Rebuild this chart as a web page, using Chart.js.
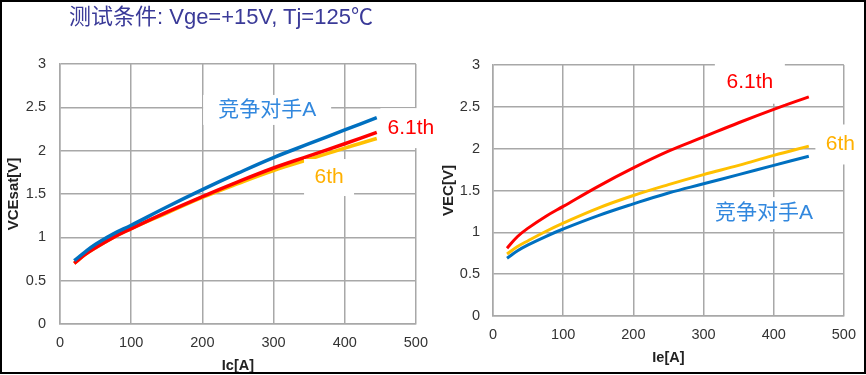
<!DOCTYPE html>
<html lang="zh">
<head>
<meta charset="UTF-8">
<title>VCEsat / VEC</title>
<script src="https://cdn.jsdelivr.net/npm/chart.js"></script>
<style>
  body {
    margin: 0;
    width: 866px;
    height: 375px;
    overflow: hidden;
    background: #ffffff;
    position: relative;
    font-family: "Liberation Sans", Arial, "Noto Sans CJK SC", sans-serif;
  }
  #marco {
    position: absolute; left: 0; top: 0;
    width: 866px; height: 374px;
    border: 2px solid #000000;
    box-sizing: border-box;
    pointer-events: none;
    z-index: 3;
  }
  #titulo {
    position: absolute; left: 69px; top: 3px;
    font-size: 22px; line-height: 28px;
    color: #3a3a98;
    white-space: nowrap;
    z-index: 2;
  }
  #cajaIzq { position: absolute; left: 0; top: 0; width: 438px; height: 375px; }
  #cajaDer { position: absolute; left: 438px; top: 0; width: 428px; height: 375px; }
  canvas { display: block; }
</style>
</head>
<body>
<div id="cajaIzq"><canvas id="graficaIzq" width="438" height="375"></canvas></div>
<div id="cajaDer"><canvas id="graficaDer" width="428" height="375"></canvas></div>
<div id="titulo">测试条件: Vge=+15V, Tj=125℃</div>
<div id="marco"></div>

<script>
// corriente de colector (A) donde se leyeron las curvas de la izquierda
const corrienteIc = [20, 35, 50, 75, 100, 150, 200, 250, 300, 350, 400, 445];
const vcesatCompetidor = [0.73, 0.83, 0.92, 1.04, 1.14, 1.35, 1.55, 1.74, 1.92, 2.08, 2.24, 2.38];
const vcesat61 = [0.70, 0.80, 0.88, 1.00, 1.10, 1.29, 1.47, 1.64, 1.80, 1.94, 2.08, 2.21];
const vcesat6 = [0.70, 0.80, 0.88, 1.00, 1.10, 1.28, 1.46, 1.62, 1.77, 1.90, 2.03, 2.14];

// corriente de emisor (A) para las curvas del diodo (derecha)
const corrienteIe = [20, 35, 50, 75, 100, 150, 200, 250, 300, 350, 400, 450];
const vecCompetidor = [0.69, 0.78, 0.85, 0.95, 1.04, 1.20, 1.34, 1.47, 1.58, 1.69, 1.80, 1.91];
const vec61 = [0.81, 0.95, 1.05, 1.19, 1.31, 1.55, 1.77, 1.97, 2.14, 2.31, 2.47, 2.62];
const vec6 = [0.74, 0.83, 0.90, 1.01, 1.11, 1.29, 1.44, 1.57, 1.69, 1.80, 1.92, 2.03];

// marcas de los ejes
const ticksCorriente = [0, 100, 200, 300, 400, 500];
const ticksTension = [0, 0.5, 1, 1.5, 2, 2.5, 3];

// nombres y colores de las series
const nombresSeries = ["竞争对手A", "6.1th", "6th"];
const coloresLinea = ["#0070c0", "#ff0000", "#ffc000"];
const coloresTexto = ["#3288de", "#ff0000", "#ffb000"];

const fuente = '"Liberation Sans", Arial, "Noto Sans CJK SC", sans-serif';
const colorRejilla = "#a8a8a8";
const colorTexto = "#333333";

// Cargar el DOM antes de dibujar
document.addEventListener("DOMContentLoaded", function () {
    dibujarIzquierda();
    dibujarDerecha();
});

// junta x e y en puntos para la grafica
function construirPuntos(xs, ys) {
    return xs.map((x, i) => ({ x: x, y: ys[i] }));
}

// una serie de linea sin puntos
function crearSerie(indice, xs, ys, grosor) {
    return {
        label: nombresSeries[indice],
        data: construirPuntos(xs, ys),
        borderColor: coloresLinea[indice],
        backgroundColor: coloresLinea[indice],
        borderWidth: grosor,
        pointRadius: 0,
        tension: 0.4,
        fill: false
    };
}

// etiquetas con fondo blanco, colocadas en unidades de los ejes
function crearPluginEtiquetas(lista) {
    return {
        id: "etiquetas",
        afterDatasetsDraw(chart) {
            const ctx = chart.ctx;
            const escalaX = chart.scales.x;
            const escalaY = chart.scales.y;
            ctx.save();
            ctx.font = "21px " + fuente;
            ctx.textAlign = "center";
            ctx.textBaseline = "middle";
            lista.forEach(et => {
                const px = escalaX.getPixelForValue(et.x);
                const py = escalaY.getPixelForValue(et.y);
                ctx.fillStyle = "#ffffff";
                ctx.fillRect(px - et.w / 2, py - et.h / 2, et.w, et.h);
                ctx.fillStyle = coloresTexto[et.serie];
                ctx.fillText(nombresSeries[et.serie], px, py);
            });
            ctx.restore();
        }
    };
}

// opciones de los dos ejes
function crearEscalas(conf) {
    return {
        x: {
            type: "linear",
            min: 0,
            max: 500,
            afterBuildTicks: escala => {
                escala.ticks = ticksCorriente.map(v => ({ value: v }));
            },
            afterFit: escala => { escala.height = conf.altoX; },
            grid: { color: colorRejilla, lineWidth: 1.5, drawTicks: false },
            border: { color: colorRejilla, width: 1.5 },
            ticks: {
                color: colorTexto,
                padding: conf.padTickX,
                font: { family: fuente, size: 14.5 },
                callback: valor => String(valor)
            },
            title: {
                display: true,
                text: conf.tituloX,
                color: "#222222",
                font: { family: fuente, size: 14.5, weight: "bold" },
                padding: { top: 0, bottom: conf.padTituloX }
            }
        },
        y: {
            type: "linear",
            min: 0,
            max: 3,
            afterBuildTicks: escala => {
                escala.ticks = ticksTension.map(v => ({ value: v }));
            },
            afterFit: escala => { escala.width = conf.anchoY; },
            grid: { color: colorRejilla, lineWidth: 1.5, drawTicks: false },
            border: { color: colorRejilla, width: 1.5 },
            ticks: {
                color: colorTexto,
                padding: conf.padTickY,
                font: { family: fuente, size: 14.5 },
                callback: valor => String(valor)
            },
            title: {
                display: true,
                text: conf.tituloY,
                color: "#222222",
                font: { family: fuente, size: 15, weight: "bold" },
                padding: { top: conf.padTituloY, bottom: 0 }
            }
        }
    };
}

// grafica de VCEsat vs Ic
function dibujarIzquierda() {
    const canvas = document.getElementById("graficaIzq");
    const etiquetas = [
        { serie: 0, x: 291, y: 2.47, w: 128, h: 30 },
        { serie: 1, x: 493, y: 2.26, w: 61, h: 40 },
        { serie: 2, x: 378, y: 1.69, w: 50, h: 37 }
    ];

    new Chart(canvas, {
        type: "line",
        data: {
            datasets: [
                crearSerie(0, corrienteIc, vcesatCompetidor, 3.5),
                crearSerie(1, corrienteIc, vcesat61, 3.5),
                crearSerie(2, corrienteIc, vcesat6, 3.5)
            ]
        },
        options: {
            responsive: false,
            animation: false,
            layout: { padding: { top: 64, right: 19, bottom: 0, left: 0 } },
            plugins: { legend: { display: false }, tooltip: { enabled: false } },
            scales: crearEscalas({
                tituloX: "Ic[A]", tituloY: "VCEsat[V]",
                anchoY: 60, altoX: 51,
                padTickX: 10, padTickY: 14,
                padTituloX: 0.5, padTituloY: 5
            })
        },
        plugins: [crearPluginEtiquetas(etiquetas)]
    });
}

// grafica de VEC vs Ie
function dibujarDerecha() {
    const canvas = document.getElementById("graficaDer");
    const etiquetas = [
        { serie: 0, x: 386, y: 1.23, w: 112, h: 32 },
        { serie: 1, x: 366, y: 2.80, w: 70, h: 44 },
        { serie: 2, x: 495, y: 2.05, w: 50, h: 40 }
    ];

    new Chart(canvas, {
        type: "line",
        data: {
            datasets: [
                crearSerie(0, corrienteIe, vecCompetidor, 3),
                crearSerie(1, corrienteIe, vec61, 3),
                crearSerie(2, corrienteIe, vec6, 3)
            ]
        },
        options: {
            responsive: false,
            animation: false,
            layout: { padding: { top: 65, right: 20, bottom: 0, left: 0 } },
            plugins: { legend: { display: false }, tooltip: { enabled: false } },
            scales: crearEscalas({
                tituloX: "Ie[A]", tituloY: "VEC[V]",
                anchoY: 55, altoX: 59,
                padTickX: 10, padTickY: 13,
                padTituloX: 8, padTituloY: 2
            })
        },
        plugins: [crearPluginEtiquetas(etiquetas)]
    });
}
</script>
</body>
</html>
